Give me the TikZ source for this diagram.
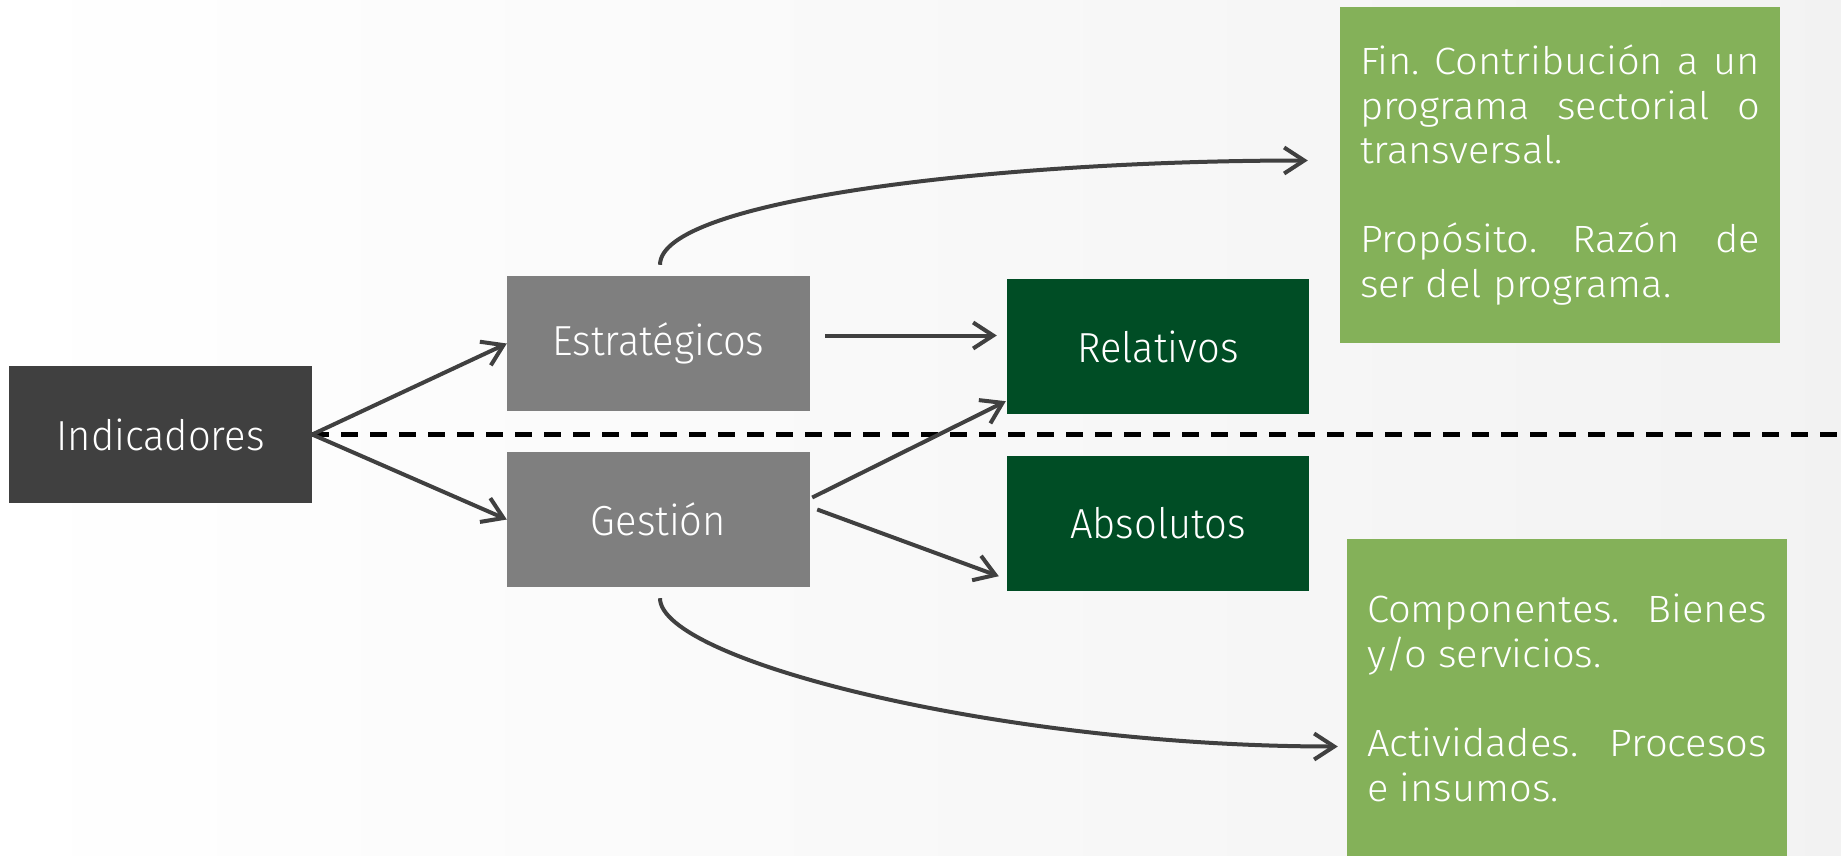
\documentclass[tikz,border=0pt]{standalone}
\usepackage{fontspec}
\setmainfont{Fira Sans Light}[FakeStretch=0.95]
\newfontfamily\notefont{Fira Sans Light}[FakeStretch=1.05]
\usetikzlibrary{
		calc,
		positioning,
		arrows.meta
	}
\definecolor{boxdark}{HTML}{404040}
\definecolor{boxgray}{HTML}{7F7F7F}
\definecolor{boxforest}{HTML}{004D25}
\definecolor{boxleaf}{HTML}{84B159}
\definecolor{connline}{HTML}{404040}
\tikzset{
		>={Straight Barb[length=20pt,width=26pt]}
	}

\begin{document}
\begin{tikzpicture}[x=1pt, y=-1pt,
					root/.style={rectangle, fill=boxdark, text=white, minimum width=303pt, minimum height=137pt, font=\fontsize{42}{50}\selectfont},
					kind/.style={rectangle, fill=boxgray, text=white, minimum width=303pt, minimum height=135pt, font=\fontsize{42}{50}\selectfont},
					measure/.style={kind, fill=boxforest, minimum width=302pt},
					detail/.style={rectangle, fill=boxleaf, text=white, minimum width=440pt, text width=400pt, inner xsep=20pt, align=justify, font=\notefont\fontsize{38}{44.6}\selectfont\frenchspacing},
					link/.style={draw=connline, line width=4pt, ->},
					split/.style={draw=black, line width=4.7pt, dash pattern=on 17pt off 12pt}]
		\shade[left color=white, right color=black!5] (0,0) rectangle (1841,856);
		\useasboundingbox (0,0) rectangle (1841,856);
		\node[root] (ind) at (160.5,434.5) {Indicadores};
		\node[kind] (est) at (658.5,343.5) {Estratégicos};
		\node[kind] (ges) at (658.5,519.5) {Gestión};
		\node[measure] (rel) at (1158,346.5) {Relativos};
		\node[measure] (absol) at (1158,523.5) {Absolutos};
		\node[detail, minimum height=335pt] (fin) at (1560,175) {Fin. Contribución a un\linebreak programa sectorial o\linebreak transversal.\par\vskip\baselineskip Propósito. Razón de\linebreak ser del programa.};
		\node[detail, minimum height=319pt] (comp) at (1567,698) {Componentes. Bienes\linebreak y/o servicios.\par\vskip\baselineskip Actividades. Procesos\linebreak e insumos.};
		\coordinate (edge) at (1841,434.5);
		\draw[split] (ind.east) -- (edge);
		\draw[link] (ind.east) -- (est.west);
		\draw[link] (ind.east) -- (ges.west);
		\draw[link] ($(est.east)+(15,-8)$) -- ($(rel.west)+(-10,-11)$);
		\draw[link] ($(ges.east)+(2,-22)$) -- ($(rel.south west)+(-1,-13)$);
		\draw[link] ($(ges.east)+(7,-10)$) -- ($(absol.south west)+(-8,-15)$);
		\draw[link] ($(est.north)+(1.5,-11)$) .. controls +(0,-65) and +(-308,0) .. ($(fin.west)+(-32,-14.5)$);
		\draw[link] ($(ges.south)+(1.5,11)$) .. controls +(0,62) and +(-338,0) .. ($(comp.west)+(-9,48.5)$);
	\end{tikzpicture}
\end{document}
